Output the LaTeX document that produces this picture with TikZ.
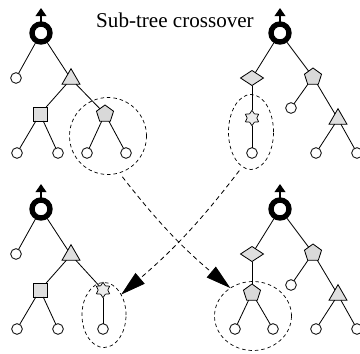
\documentclass[tikz,border=0pt]{standalone}
\usepackage{fontspec}
\setmainfont{Liberation Serif}
\usetikzlibrary{shapes.geometric,arrows.meta}
\begin{document}
\begin{tikzpicture}[x=0.03cm,y=-0.03cm,
  every node/.style={inner sep=0pt, outer sep=0pt},
  leaf/.style={circle,draw,line width=0.7pt,fill=white,minimum size=3.2mm},
  rootn/.style={circle,draw,line width=1.6mm,fill=white,minimum size=5.4mm},
  tri/.style={regular polygon,regular polygon sides=3,draw,line width=0.7pt,fill=gray!25,minimum size=6.2mm},
  sq/.style={rectangle,draw,line width=0.7pt,fill=gray!25,minimum size=4.2mm},
  pent/.style={regular polygon,regular polygon sides=5,draw,line width=0.7pt,fill=gray!30,minimum size=5.4mm},
  dia/.style={diamond,draw,line width=0.7pt,fill=gray!25,minimum width=6.9mm,minimum height=4.5mm},
  hexstar/.style={star,star points=6,star point ratio=1.6,draw,line width=0.6pt,fill=gray!15,minimum size=4.6mm},
  br/.style={line width=0.7pt},
  sel/.style={ellipse,draw,line width=0.6pt,dash pattern=on 3pt off 2.5pt},
  xarrow/.style={line width=0.7pt,dash pattern=on 4pt off 3pt,-{Triangle[length=7.5mm,width=4.2mm]}},
  outarrow/.style={line width=1.2pt,-{Triangle[length=2.4mm,width=3.2mm]}}
]
\useasboundingbox (0,0) rectangle (360,353);

\node[anchor=base,font=\fontsize{18}{20}\selectfont] (title) at (175,27) {Sub-tree crossover};

% ---------- top-left tree ----------
\node[rootn] (r1) at (41,33) {};
\coordinate (o1) at (41,8);
\node[leaf] (a1) at (16,78) {};
\node[tri] (t1) at (71,79) {};
\node[sq] (s1) at (40,114) {};
\node[pent] (p1) at (105,114) {};
\node[leaf] (a2) at (17,153) {};
\node[leaf] (a3) at (58,153) {};
\node[leaf] (a4) at (87,153) {};
\node[leaf] (a5) at (126,153) {};
\draw[br] (r1) -- (a1);
\draw[br] (r1) -- (t1);
\draw[br] (t1) -- (s1);
\draw[br] (t1) -- (p1);
\draw[br] (s1) -- (a2);
\draw[br] (s1) -- (a3);
\draw[br] (p1) -- (a4);
\draw[br] (p1) -- (a5);
\draw[outarrow] (r1) -- (o1);
\node[sel,minimum width=23.1mm,minimum height=23.1mm] (c1) at (108,136) {};

% ---------- top-right tree ----------
\node[rootn] (r2) at (280,33) {};
\coordinate (o2) at (280,8);
\node[dia] (d2) at (252,78) {};
\node[pent] (p2) at (313,77) {};
\node[hexstar] (h2) at (252,118) {};
\node[leaf] (b1) at (252,153) {};
\node[leaf] (b2) at (291,108) {};
\node[tri] (t2) at (338,119) {};
\node[leaf] (b3) at (316,153) {};
\node[leaf] (b4) at (357,153) {};
\draw[br] (r2) -- (d2);
\draw[br] (r2) -- (p2);
\draw[br] (d2) -- (h2);
\draw[br] (h2) -- (b1);
\draw[br] (p2) -- (b2);
\draw[br] (p2) -- (t2);
\draw[br] (t2) -- (b3);
\draw[br] (t2) -- (b4);
\draw[outarrow] (r2) -- (o2);
\node[sel,minimum width=13.5mm,minimum height=22.5mm] (e2) at (251,132) {};

% ---------- bottom-left tree ----------
\node[rootn] (r3) at (41,209) {};
\coordinate (o3) at (41,184);
\node[leaf] (f1) at (16,254) {};
\node[tri] (t3) at (71,255) {};
\node[sq] (s3) at (40,290) {};
\node[hexstar] (h3) at (103,290) {};
\node[leaf] (f2) at (17,329) {};
\node[leaf] (f3) at (58,329) {};
\node[leaf] (f4) at (103,329) {};
\draw[br] (r3) -- (f1);
\draw[br] (r3) -- (t3);
\draw[br] (t3) -- (s3);
\draw[br] (t3) -- (h3);
\draw[br] (s3) -- (f2);
\draw[br] (s3) -- (f3);
\draw[br] (h3) -- (f4);
\draw[outarrow] (r3) -- (o3);
\node[sel,minimum width=13.2mm,minimum height=19.5mm] (e3) at (104,315) {};

% ---------- bottom-right tree ----------
\node[rootn] (r4) at (280,209) {};
\coordinate (o4) at (280,184);
\node[dia] (d4) at (252,254) {};
\node[pent] (p4) at (313,253) {};
\node[pent] (q4) at (252,293) {};
\node[leaf] (g1) at (235,329) {};
\node[leaf] (g2) at (273,329) {};
\node[leaf] (g3) at (291,285) {};
\node[tri] (t4) at (338,295) {};
\node[leaf] (g4) at (316,329) {};
\node[leaf] (g5) at (357,329) {};
\draw[br] (r4) -- (d4);
\draw[br] (r4) -- (p4);
\draw[br] (d4) -- (q4);
\draw[br] (q4) -- (g1);
\draw[br] (q4) -- (g2);
\draw[br] (p4) -- (g3);
\draw[br] (p4) -- (t4);
\draw[br] (t4) -- (g4);
\draw[br] (t4) -- (g5);
\draw[outarrow] (r4) -- (o4);
\node[sel,minimum width=23.1mm,minimum height=20.7mm] (c4) at (253,316) {};

% ---------- crossover arrows ----------
\draw[xarrow,shorten <=1.5mm] (c1.-73) to[bend right=6] (c4.129);
\draw[xarrow,shorten <=1.5mm] (e2.-104) to[bend left=6] (e3.50);
\end{tikzpicture}
\end{document}
